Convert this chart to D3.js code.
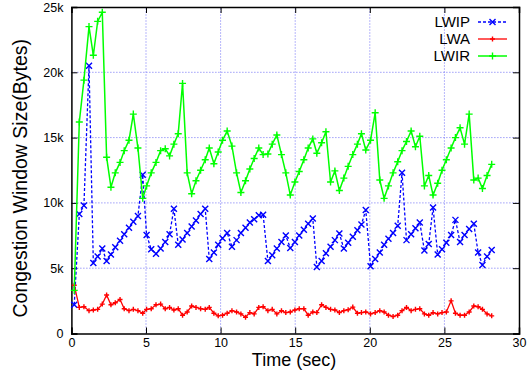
<html>
<head>
<meta charset="utf8">
<style>
body { margin: 0; background: #fff; }
text { font-family: "Liberation Sans", Arial, sans-serif; }
</style>
</head>
<body>
<div id="canvas"></div>
<script src="https://cdn.jsdelivr.net/npm/d3@7"></script>
<script>

// sample times (sec), shared by all three series
const times = [0.19, 0.53, 0.84, 1.18, 1.47, 1.76, 2.07, 2.36, 2.65, 2.94, 3.26, 3.54, 3.86, 4.15, 4.46, 4.78,
  5.04, 5.35, 5.67, 5.98, 6.29, 6.58, 6.87, 7.16, 7.45, 7.76, 8.06, 8.35, 8.66, 8.97, 9.24, 9.55, 9.84,
  10.13, 10.44, 10.76, 11.07, 11.36, 11.67, 11.96, 12.25, 12.56, 12.85, 13.17, 13.46, 13.77, 14.08, 14.37,
  14.67, 14.98, 15.27, 15.58, 15.87, 16.18, 16.45, 16.77, 17.06, 17.37, 17.66, 17.96, 18.26, 18.55, 18.86,
  19.17, 19.44, 19.73, 20.05, 20.36, 20.67, 20.96, 21.25, 21.56, 21.87, 22.16, 22.46, 22.77, 23.06, 23.35,
  23.66, 23.95, 24.24, 24.55, 24.84, 25.13, 25.45, 25.74, 26.05, 26.35, 26.66, 26.97, 27.26, 27.55, 27.86, 28.17];

// congestion window, in k bytes
const lwip = [2.2, 9.15, 9.8, 20.5, 5.4, 5.9, 6.5, 5.55, 6.05, 6.6, 7.1, 7.6, 8.1, 8.55, 9.0, 12.15,
  7.55, 6.45, 6.1, 6.5, 7.0, 7.6, 9.55, 6.8, 7.2, 7.7, 8.2, 8.65, 9.15, 9.55, 5.7, 6.2, 6.8,
  7.3, 7.7, 6.65, 7.15, 7.7, 8.1, 8.5, 8.75, 9.05, 9.1, 5.55, 6.0, 6.5, 7.0, 7.5,
  6.55, 7.0, 7.5, 7.95, 8.4, 8.8, 5.1, 5.55, 6.15, 6.65, 7.15, 7.65, 6.5, 6.95, 7.4,
  7.9, 8.35, 9.45, 5.15, 5.7, 6.2, 6.8, 7.25, 7.7, 8.25, 12.3, 7.15, 7.6, 8.05, 8.5,
  6.35, 6.85, 9.65, 6.05, 6.45, 6.95, 7.55, 8.7, 7.0, 7.55, 8.0, 8.4, 6.2, 5.25, 5.9, 6.4];

const lwa = [3.7, 2.0, 2.05, 1.75, 1.8, 1.85, 2.25, 2.95, 2.2, 2.35, 2.6, 1.9, 1.75, 1.85, 1.75, 1.55,
  1.85, 1.9, 2.2, 2.25, 1.9, 2.0, 1.8, 1.9, 1.4, 1.65, 2.1, 2.0, 1.9, 1.85, 2.0, 1.55, 1.35,
  1.4, 1.55, 1.75, 1.65, 1.5, 1.25, 1.6, 1.5, 2.0, 2.05, 1.75, 1.85, 1.5, 1.75, 1.6,
  1.65, 1.8, 1.9, 1.9, 1.4, 1.65, 1.6, 2.2, 2.0, 1.85, 1.8, 1.6, 1.75, 1.82, 2.02,
  1.55, 1.6, 1.65, 1.5, 1.6, 1.75, 1.65, 1.4, 1.3, 1.4, 1.75, 2.0, 1.75, 1.85, 1.9,
  1.5, 1.4, 1.6, 1.5, 1.6, 1.65, 2.5, 1.55, 1.4, 1.4, 1.65, 2.1, 2.05, 1.85, 1.5, 1.35];

const lwir = [3.3, 16.2, 19.4, 23.5, 21.3, 23.9, 24.6, 13.5, 11.2, 12.3, 13.1, 14.0, 14.8, 16.8, 14.2, 10.35,
  11.3, 12.3, 13.1, 14.0, 14.15, 13.6, 14.5, 15.3, 19.15, 12.3, 10.7, 11.7, 12.5, 13.3, 14.2, 13.0, 13.9,
  14.8, 15.5, 14.35, 12.3, 10.8, 11.7, 12.6, 13.4, 14.2, 13.7, 13.75, 14.5, 15.2, 13.7, 12.3,
  10.6, 11.6, 12.4, 13.3, 14.2, 14.9, 13.8, 14.6, 15.45, 11.6, 12.45, 10.95, 11.9, 12.8, 13.7,
  14.5, 15.3, 14.05, 14.8, 16.9, 11.75, 10.35, 11.3, 12.3, 13.15, 14.0, 14.7, 15.5, 14.3, 15.1,
  11.3, 12.1, 10.6, 11.5, 12.5, 13.3, 14.2, 15.0, 15.75, 14.5, 16.8, 11.75, 11.9, 11.1, 12.1, 12.95];

const xTicks = [0, 5, 10, 15, 20, 25, 30];
const yTicks = [0, 5, 10, 15, 20, 25];
const seriesNames = ['LWIP', 'LWA', 'LWIR'];

const W = 527, H = 374;
const m = {left: 71.4, top: 7, right: 8, bottom: 40.5};

const svg = d3.select("#canvas").append("svg")
    .attr("width", W)
    .attr("height", H)
    .attr("viewBox", `0 0 ${W} ${H}`);

const x = d3.scaleLinear().domain([0, 30]).range([m.left, W - m.right]);
const y = d3.scaleLinear().domain([0, 25]).range([H - m.bottom, m.top]);

// grid
const grid = svg.append("g").attr("stroke", "#6f6ff5").attr("stroke-width", 1).attr("stroke-dasharray", "1,2");
grid.selectAll(".gx").data(xTicks.slice(1, -1)).join("line")
    .attr("x1", d => x(d)).attr("x2", d => x(d))
    .attr("y1", y(0)).attr("y2", y(25));
grid.selectAll(".gy").data(yTicks.slice(1, -1)).join("line")
    .attr("x1", x(0)).attr("x2", x(30))
    .attr("y1", d => y(d)).attr("y2", d => y(d));

// axes (gnuplot style: inward ticks, mirrored)
const kfmt = d => d === 0 ? "0" : d + "k";
svg.append("g").attr("transform", `translate(0,${y(0)})`)
    .call(d3.axisBottom(x).tickValues(xTicks).tickSize(-6).tickPadding(5).tickFormat(d3.format("d")));
svg.append("g").attr("transform", `translate(0,${y(25)})`)
    .call(d3.axisTop(x).tickValues(xTicks).tickSize(-6).tickFormat(""));
svg.append("g").attr("transform", `translate(${x(0)},0)`)
    .call(d3.axisLeft(y).tickValues(yTicks).tickSize(-6).tickPadding(8).tickFormat(kfmt));
svg.append("g").attr("transform", `translate(${x(30)},0)`)
    .call(d3.axisRight(y).tickValues(yTicks).tickSize(-6).tickFormat(""));
svg.selectAll(".domain").attr("stroke", "#000").attr("stroke-width", 1.5);
svg.selectAll(".tick line").attr("stroke", "#000");
svg.selectAll(".tick text").attr("font-size", 12.5).attr("fill", "#000")
    .attr("font-family", "Liberation Sans, Arial, sans-serif");

// axis titles
svg.append("text").attr("x", 294).attr("y", 366)
    .attr("text-anchor", "middle").attr("font-size", 18).text("Time (sec)");
svg.append("text").attr("transform", `translate(27,${(y(0) + y(25)) / 2 + 8}) rotate(-90)`)
    .attr("text-anchor", "middle").attr("font-size", 19.5).text("Congestion Window Size(Bytes)");

const styles = {
  LWIP: {data: lwip, color: "#0000ff", dash: "3,2", marker: "x", w: 1.3},
  LWA: {data: lwa, color: "#ff0000", dash: null, marker: "+", w: 1.3, ms: 2.5},
  LWIR: {data: lwir, color: "#00ff00", dash: null, marker: "+", w: 1.5, ms: 3.5}
};

const line = d3.line().x(d => x(d[0])).y(d => y(d[1]));

function marker(g, cx, cy, s) {
  const r = s.ms || 3;
  if (s.marker === "x") {
    g.append("path").attr("d", `M${cx - r},${cy - r}L${cx + r},${cy + r}M${cx - r},${cy + r}L${cx + r},${cy - r}`)
      .attr("stroke", s.color).attr("stroke-width", 1.4).attr("fill", "none");
  } else {
    g.append("path").attr("d", `M${cx - r},${cy}L${cx + r},${cy}M${cx},${cy - r}L${cx},${cy + r}`)
      .attr("stroke", s.color).attr("stroke-width", 1.4).attr("fill", "none");
  }
}

// draw order: LWIP, LWA, LWIR (LWIR on top)
seriesNames.forEach(name => {
  const s = styles[name];
  const pts = times.map((t, i) => [t, s.data[i]]);
  const g = svg.append("g");
  g.append("path").datum(pts)
    .attr("fill", "none").attr("stroke", s.color).attr("stroke-width", s.w)
    .attr("stroke-dasharray", s.dash).attr("d", line);
  pts.forEach(p => marker(g, x(p[0]), y(p[1]), s));
});

// legend
const lg = svg.append("g");
seriesNames.forEach((name, i) => {
  const s = styles[name];
  const ly = 22 + i * 17;
  lg.append("text").attr("x", 470).attr("y", ly).attr("dy", "0.35em")
    .attr("text-anchor", "end").attr("font-size", 15).text(name);
  lg.append("line").attr("x1", 478).attr("x2", 507).attr("y1", ly).attr("y2", ly)
    .attr("stroke", s.color).attr("stroke-width", s.w).attr("stroke-dasharray", s.dash);
  marker(lg, 492.5, ly, s);
});
</script>
</body>
</html>
